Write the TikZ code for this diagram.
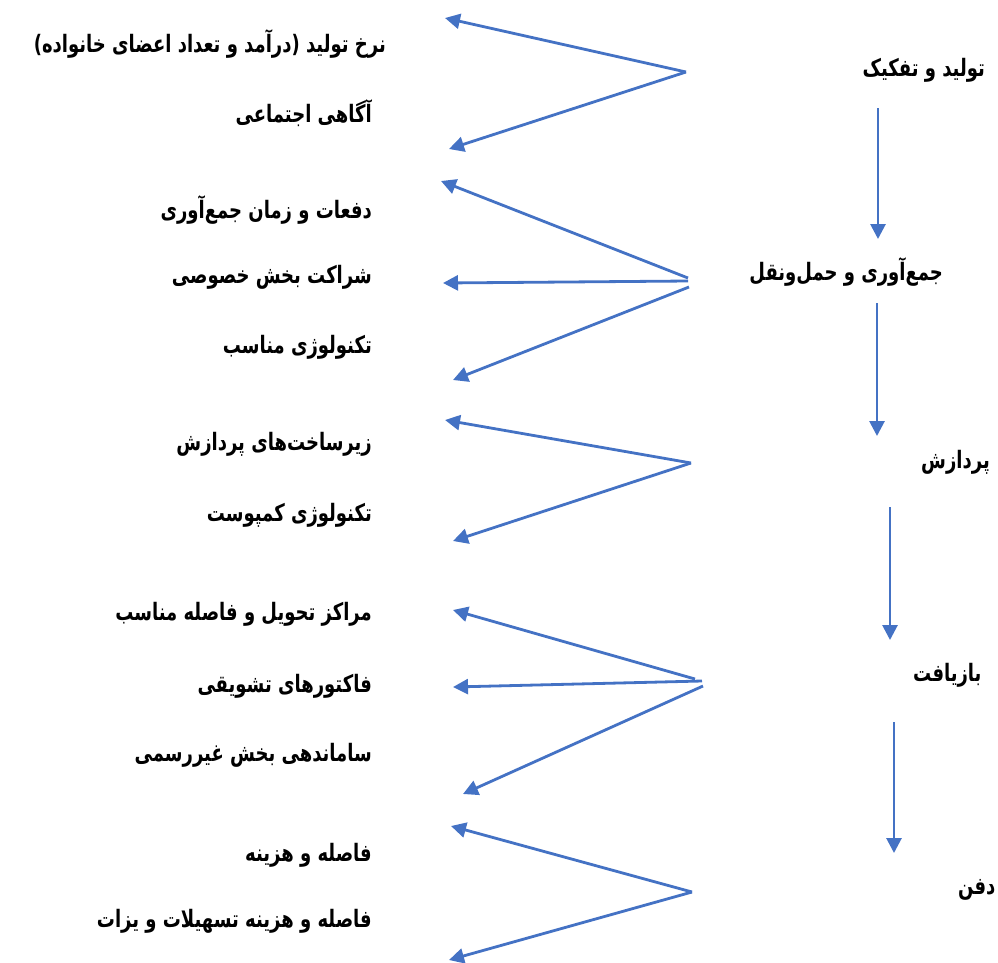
\documentclass[tikz,border=0pt]{standalone}
\usepackage{fontspec}
\TeXXeTstate=1
\newfontfamily\fa[Script=Arabic, FakeStretch=0.75]{DejaVu Sans}
\usetikzlibrary{arrows.meta}
\definecolor{arr}{HTML}{4472C4}
\tikzset{
  lab/.style={font=\fa\bfseries\fontsize{24}{28}\selectfont, inner sep=0pt, text=black},
  con/.style={draw=arr, line width=2.8pt, -{Triangle[length=15pt,width=15pt]}}
}
\begin{document}
\begin{tikzpicture}[x=1pt,y=-1pt]
\useasboundingbox (0,0) rectangle (998,962);
% stage labels (right column)
\node[lab, anchor=east] (s1) at (985,70) {\beginR تولید و تفکیک\endR};
\node[lab, anchor=east] (s2) at (943,272) {\beginR جمع‌آوری و حمل‌ونقل\endR};
\node[lab, anchor=west] (s3) at (921,462) {\beginR پردازش\endR};
\node[lab, anchor=west] (s4) at (913,675) {\beginR بازیافت\endR};
\node[lab, anchor=west] (s5) at (958,890) {\beginR دفن\endR};
% factor labels (left column)
\node[lab, anchor=east] (f1) at (386,44) {\beginR نرخ تولید (درآمد و تعداد اعضای خانواده)\endR};
\node[lab, anchor=east] (f2) at (372,113) {\beginR آگاهی اجتماعی\endR};
\node[lab, anchor=east] (f3) at (372,210) {\beginR دفعات و زمان جمع‌آوری\endR};
\node[lab, anchor=east] (f4) at (372,277) {\beginR شراکت بخش خصوصی\endR};
\node[lab, anchor=east] (f5) at (372,347) {\beginR تکنولوژی مناسب\endR};
\node[lab, anchor=east] (f6) at (372,444) {\beginR زیرساخت‌های پردازش\endR};
\node[lab, anchor=east] (f7) at (372,515) {\beginR تکنولوژی کمپوست\endR};
\node[lab, anchor=east] (f8) at (372,614) {\beginR مراکز تحویل و فاصله مناسب\endR};
\node[lab, anchor=east] (f9) at (372,686) {\beginR فاکتورهای تشویقی\endR};
\node[lab, anchor=east] (f10) at (372,755) {\beginR ساماندهی بخش غیررسمی\endR};
\node[lab, anchor=east] (f11) at (372,855) {\beginR فاصله و هزینه\endR};
\node[lab, anchor=east] (f12) at (372,921) {\beginR فاصله و هزینه تسهیلات و یزات\endR};
% connector coordinates
\coordinate (o1) at (686,72);
\coordinate (t1a) at (445,18);
\coordinate (t1b) at (449,149);
\coordinate (o2a) at (688,278);
\coordinate (o2b) at (688,281);
\coordinate (o2c) at (689,287);
\coordinate (t2a) at (441,181);
\coordinate (t2b) at (443,283);
\coordinate (t2c) at (453,380);
\coordinate (o3) at (691,463);
\coordinate (t3a) at (445,420);
\coordinate (t3b) at (453,541);
\coordinate (o4a) at (695,679);
\coordinate (o4b) at (702,681);
\coordinate (o4c) at (703,686);
\coordinate (t4a) at (453,610);
\coordinate (t4b) at (453,687);
\coordinate (t4c) at (463,794);
\coordinate (o5) at (692,892);
\coordinate (t5a) at (451,826);
\coordinate (t5b) at (449,960);
\coordinate (v1a) at (878,108);
\coordinate (v1b) at (878,239);
\coordinate (v2a) at (877,303);
\coordinate (v2b) at (877,436);
\coordinate (v3a) at (890,507);
\coordinate (v3b) at (890,640);
\coordinate (v4a) at (894,722);
\coordinate (v4b) at (894,853);
% connectors
\draw[con] (o1) -- (t1a);
\draw[con] (o1) -- (t1b);
\draw[con] (o2a) -- (t2a);
\draw[con] (o2b) -- (t2b);
\draw[con] (o2c) -- (t2c);
\draw[con] (o3) -- (t3a);
\draw[con] (o3) -- (t3b);
\draw[con] (o4a) -- (t4a);
\draw[con] (o4b) -- (t4b);
\draw[con] (o4c) -- (t4c);
\draw[con] (o5) -- (t5a);
\draw[con] (o5) -- (t5b);
\draw[con] (v1a) -- (v1b);
\draw[con] (v2a) -- (v2b);
\draw[con] (v3a) -- (v3b);
\draw[con] (v4a) -- (v4b);
\end{tikzpicture}
\end{document}
